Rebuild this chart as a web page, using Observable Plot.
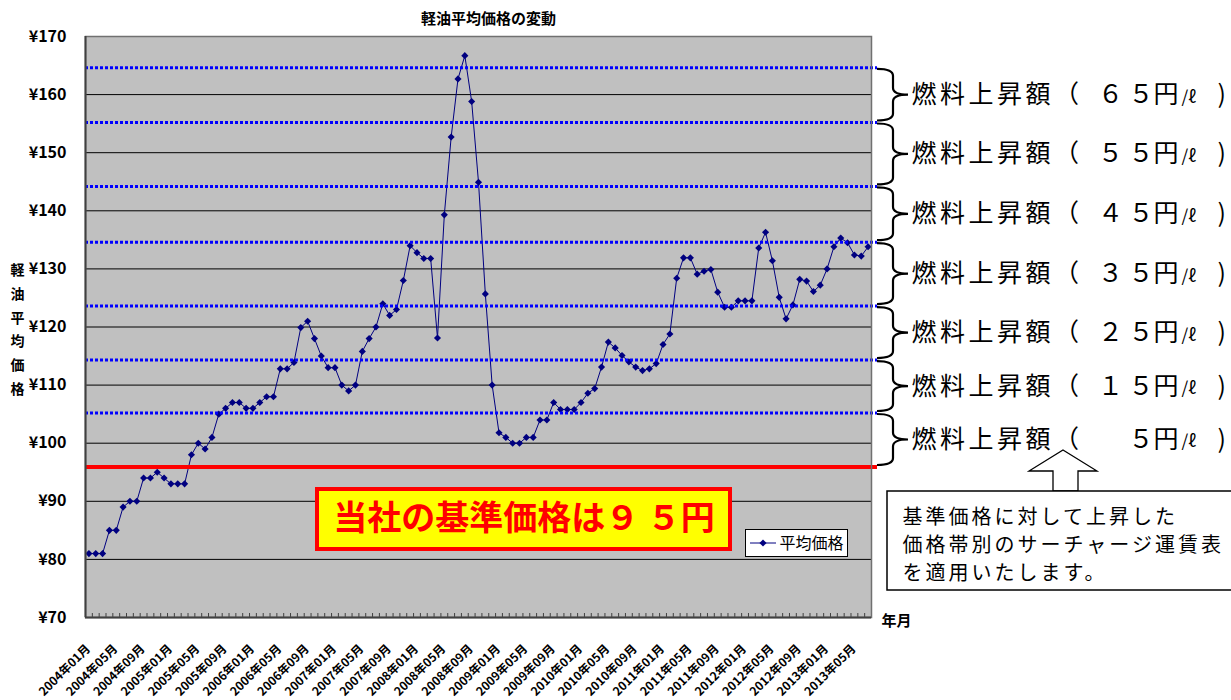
<!DOCTYPE html>
<html><head><meta charset="utf-8">
<script src="https://cdn.jsdelivr.net/npm/d3@7"></script>
<script src="https://cdn.jsdelivr.net/npm/@observablehq/plot@0.6"></script>
<style>
html,body{margin:0;padding:0;background:#fff;}
#chart svg{display:block;}
</style></head><body><div id="chart"></div>
<script>
// ---------- data ----------
const startYear = 2004;
const monthCount = 115; // 2004年01月 .. 2013年07月
const months = Array.from({length: monthCount}, (_, i) =>
  `${startYear + Math.floor(i / 12)}年${String(i % 12 + 1).padStart(2, "0")}月`);
const prices = [
  81, 81, 81, 85, 85, 89, 90, 90, 94, 94,
  95, 94, 93, 93, 93, 98, 100, 99, 101, 105,
  106, 107, 107, 106, 106, 107, 108, 108, 112.8, 112.8,
  113.9, 119.9, 121, 118, 115, 113, 113, 110, 109, 110,
  115.8, 118, 120, 124, 122, 123, 128, 134, 132.8, 131.8,
  131.8, 118.1, 139.3, 152.7, 162.7, 166.7, 158.8, 144.9, 125.7, 110,
  101.8, 101, 100, 100, 101, 101, 104, 104, 107, 105.8,
  105.8, 105.8, 107, 108.6, 109.4, 113.1, 117.4, 116.4, 115.1, 114,
  113.1, 112.5, 112.8, 113.7, 117, 118.8, 128.4, 131.9, 131.9, 129.1,
  129.6, 129.9, 126, 123.4, 123.4, 124.5, 124.5, 124.5, 133.6, 136.3,
  131.4, 125.1, 121.4, 123.8, 128.2, 127.9, 126.1, 127.2, 130, 133.8,
  135.3, 134.5, 132.4, 132.2, 133.8
];
const yTicks = [70, 80, 90, 100, 110, 120, 130, 140, 150, 160, 170];
const labelStep = 4;
const bandLines = [164.6, 155.2, 144.2, 134.6, 123.6, 114.3, 105.2]; // blue dotted
const baseLine = 95.9;                                                 // red line
const surcharges = [65, 55, 45, 35, 25, 15, 5];
const seriesName = "平均価格";
const title = "軽油平均価格の変動";
const yTitle = "軽油平均価格";
const xTitle = "年月";
const baseText = "当社の基準価格は９ ５円";
const noteLines = ["基準価格に対して上昇した", "価格帯別のサーチャージ運賃表", "を適用いたします。"];

// ---------- derived tables ----------
const table = prices.map((v, i) => ({i, month: months[i], price: v}));
const labelIdx = d3.range(0, monthCount, labelStep);
const bounds = d3.range(monthCount + 1).map(i => i - 0.5);
const levels = [...bandLines, baseLine];
const bands = surcharges.map((s, k) => ({hi: levels[k], lo: levels[k + 1], mid: (levels[k] + levels[k + 1]) / 2, amount: s}));
const fw = s => String(s).replace(/[0-9]/g, c => String.fromCharCode(c.charCodeAt(0) + 0xFEE0));
const amountText = s => s >= 10 ? fw(String(s)[0]) + " " + fw(String(s).slice(1)) + "円" : fw(s) + "円";

const W = 1231, H = 700;
const M = {top: 36, right: 360, bottom: 83, left: 85};
const FW = W - M.left - M.right, FH = H - M.top - M.bottom;
const JP = "'Noto Sans CJK JP', sans-serif";
const at = (X, Y) => ({frameAnchor: "top-left", dx: X - M.left, dy: Y - M.top});

// decorations (boxes, braces, arrow, legend swatch) positioned from plot scales/dimensions
function decorations(index, scales, values, dims) {
  const g = d3.create("svg:g");
  const right = dims.width - dims.marginRight;
  // braces
  const bg = g.append("g").attr("fill", "none").attr("stroke", "#000").attr("stroke-width", 2.2);
  bands.forEach(b => {
    const y0 = scales.y(b.hi) + 1.5, y1 = scales.y(b.lo) - 1.5, ym = (y0 + y1) / 2;
    const x0 = right + 6, xs = right + 22, xt = right + 37, r = 7;
    bg.append("path").attr("d",
      `M${x0},${y0} Q${xs},${y0} ${xs},${y0 + r} L${xs},${ym - r} Q${xs},${ym} ${xt},${ym} ` +
      `Q${xs},${ym} ${xs},${ym + r} L${xs},${y1 - r} Q${xs},${y1} ${x0},${y1}`);
  });
  // yellow base-price box
  g.append("rect").attr("x", 317).attr("y", 489).attr("width", 413).attr("height", 60)
    .attr("fill", "#ffff00").attr("stroke", "#ff0000").attr("stroke-width", 4);
  // legend box
  g.append("rect").attr("x", 745.5).attr("y", 529.5).attr("width", 102).attr("height", 27)
    .attr("fill", "#fff").attr("stroke", "#000").attr("stroke-width", 1);
  g.append("line").attr("x1", 750).attr("x2", 776).attr("y1", 543).attr("y2", 543)
    .attr("stroke", "#000080").attr("stroke-width", 1);
  g.append("path").attr("d", d3.symbol(d3.symbolDiamond2, Math.PI * 3.2 * 3.2)())
    .attr("transform", "translate(763,543)").attr("fill", "#000080");
  // arrow
  g.append("path").attr("d", "M1063,450 L1097,471 L1078,471 L1078,491 L1053,491 L1053,471 L1029,471 Z")
    .attr("fill", "#fff").attr("stroke", "#000").attr("stroke-width", 1.3);
  // note box
  g.append("rect").attr("x", 887).attr("y", 491).attr("width", 400).attr("height", 99)
    .attr("fill", "#fff").attr("stroke", "#000").attr("stroke-width", 1.5);
  return g.node();
}

const chart = Plot.plot({
  width: W, height: H,
  marginTop: M.top, marginRight: M.right, marginBottom: M.bottom, marginLeft: M.left,
  x: {type: "linear", domain: [-0.5, monthCount - 0.5], axis: null},
  y: {type: "linear", domain: [70, 170], axis: null},
  style: {fontFamily: JP, background: "#fff", overflow: "visible"},
  marks: [
    Plot.frame({fill: "#c0c0c0"}),
    Plot.ruleY(yTicks.slice(1, -1), {stroke: "#000", strokeWidth: 1}),
    Plot.tickX(bounds, {x: d => d, insetTop: FH - 4, stroke: "#404040", strokeWidth: 1}),
    Plot.line(table, {x: "i", y: "price", stroke: "#000080", strokeWidth: 1}),
    Plot.dot(table, {x: "i", y: "price", symbol: "diamond2", r: 3.2, fill: "#000080", stroke: "none"}),
    Plot.ruleY(bandLines, {stroke: "#0000ff", strokeWidth: 3, strokeDasharray: "3,2", insetRight: -6}),
    Plot.ruleY([baseLine], {stroke: "#ff0000", strokeWidth: 4, insetRight: -6}),
    Plot.frame({stroke: "#707070", strokeWidth: 1.5}),
    Plot.ruleX([-0.5], {stroke: "#404040", strokeWidth: 2}),
    Plot.ruleY([70], {stroke: "#404040", strokeWidth: 2}),
    // y tick labels
    Plot.text(yTicks, {y: d => d, text: d => "¥" + d, frameAnchor: "left", textAnchor: "end", dx: -19,
      fontSize: 16, fontWeight: "bold", fill: "#000"}),
    // x tick labels
    Plot.text(labelIdx, {x: d => d, text: d => months[d], frameAnchor: "bottom", rotate: -45,
      textAnchor: "end", dx: 2, dy: 32, fontSize: 12, fontWeight: "bold", fill: "#000"}),
    // titles
    Plot.text([title], {frameAnchor: "top", dx: 10, dy: 19 - M.top, lineAnchor: "middle",
      fontSize: 15, fontWeight: "bold", fill: "#000"}),
    Plot.text([yTitle.split("").join("\n")], {frameAnchor: "left", dx: 17 - M.left, textAnchor: "middle",
      lineAnchor: "middle", lineHeight: 1.69, fontSize: 14, fontWeight: "bold", fill: "#000"}),
    Plot.text([xTitle], {frameAnchor: "bottom-right", dx: 10, dy: 4, textAnchor: "start", lineAnchor: "middle",
      fontSize: 15, fontWeight: "bold", fill: "#000"}),
    decorations,
    // band labels
    Plot.text(bands, {y: "mid", text: () => "燃料上昇額（", frameAnchor: "right", textAnchor: "start",
      dx: 40, fontSize: 25, fill: "#000"}),
    Plot.text(bands, {y: "mid", text: d => amountText(d.amount), frameAnchor: "right", textAnchor: "end",
      dx: 307, fontSize: 25, fill: "#000"}),
    Plot.text(bands, {y: "mid", text: () => "/ℓ", frameAnchor: "right", textAnchor: "start",
      dx: 310, dy: 2, fontSize: 17, fill: "#000"}),
    Plot.text(bands, {y: "mid", text: () => ")", frameAnchor: "right", textAnchor: "start",
      dx: 346, fontSize: 25, fill: "#000"}),
    // base price text
    Plot.text([baseText], {...at(523.5, 519), textAnchor: "middle", lineAnchor: "middle",
      fontSize: 34, fontWeight: "bold", fill: "#ff0000"}),
    // legend text
    Plot.text([seriesName], {...at(779, 543), textAnchor: "start", lineAnchor: "middle", fontSize: 16, fill: "#000"}),
    // note box text, one line each
    ...noteLines.map((t, k) => Plot.text([t], {...at(902, 517 + 28 * k), textAnchor: "start", lineAnchor: "middle",
      fontSize: 20, fill: "#000"}))
  ]
});
document.getElementById("chart").appendChild(chart);

// letter spacing like the original's wide Japanese type
const svg = d3.select(chart);
svg.selectAll("text").filter(function () { return this.textContent.startsWith("燃料"); })
  .style("letter-spacing", "3.5px");
svg.selectAll("text").filter(function () { return noteLines.includes(this.textContent); })
  .style("letter-spacing", "3px");
</script></body></html>
